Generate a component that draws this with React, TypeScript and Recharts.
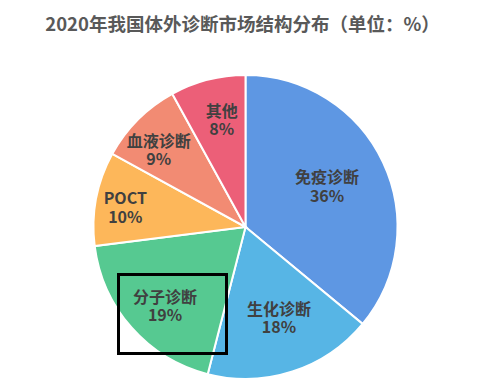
import React from 'react';
import { PieChart, Pie, Cell } from 'recharts';

const categories = ['免疫诊断', '生化诊断', '分子诊断', 'POCT', '血液诊断', '其他'];
const shares = [36, 18, 19, 10, 9, 8];
const titleText = '2020年我国体外诊断市场结构分布（单位：%）';

const sliceColors = ['#5E97E3', '#57B5E5', '#56C991', '#FDB75A', '#F28B73', '#EC5F78'];
// label placement (layout only): radius ratio and clockwise angle tweak in degrees
const labelRadiusRatio = [0.599, 0.638, 0.742, 0.801, 0.763, 0.721];
const labelAngleTweak = [-1.2, -2.2, -3.1, -1.6, -3.4, 1.9];

const data = categories.map((name, i) => ({ name, value: shares[i] }));

const FONT = '"Noto Sans CJK SC", "Noto Sans", sans-serif';
const RAD = Math.PI / 180;
const LABEL_FS = 16;

const renderLabel = (props: any) => {
  const { cx, cy, midAngle, outerRadius, index, name, value } = props;
  const r = outerRadius * labelRadiusRatio[index];
  const theta = (90 - midAngle + labelAngleTweak[index]) * RAD;
  const x = cx + r * Math.sin(theta);
  const y = cy - r * Math.cos(theta);
  const base = 0.37 * LABEL_FS;
  const common = {
    textAnchor: 'middle' as const,
    fill: '#404040',
    fontFamily: FONT,
    fontWeight: 'bold' as const,
    fontSize: LABEL_FS,
  };
  return (
    <g>
      <text x={x} y={y - 9.25 + base} {...common}>{name}</text>
      <text x={x} y={y + 9.25 + base} {...common}>{`${value}%`}</text>
    </g>
  );
};

export default function App() {
  return (
    <div style={{ position: 'fixed', left: 0, top: 0, width: 485, height: 387, background: '#fff' }}>
      <div
        style={{
          position: 'absolute',
          left: 0,
          top: 9,
          width: 485,
          textAlign: 'center',
          fontFamily: FONT,
          fontWeight: 'bold',
          fontSize: 18.5,
          color: '#595959',
          lineHeight: '28px',
        }}
      >
        {titleText}
      </div>
      <PieChart width={485} height={387} margin={{ top: 0, right: 0, bottom: 0, left: 0 }}>
        <Pie
          data={data}
          dataKey="value"
          nameKey="name"
          cx={245.5}
          cy={227}
          outerRadius={152}
          startAngle={90}
          endAngle={-270}
          stroke="#ffffff"
          strokeWidth={2}
          label={renderLabel}
          labelLine={false}
          isAnimationActive={false}
        >
          {data.map((d, i) => (
            <Cell key={d.name} fill={sliceColors[i]} />
          ))}
        </Pie>
      </PieChart>
      <div
        style={{
          position: 'absolute',
          left: 117,
          top: 273,
          width: 111,
          height: 82,
          border: '3px solid #000',
          boxSizing: 'border-box',
          pointerEvents: 'none',
        }}
      />
    </div>
  );
}
